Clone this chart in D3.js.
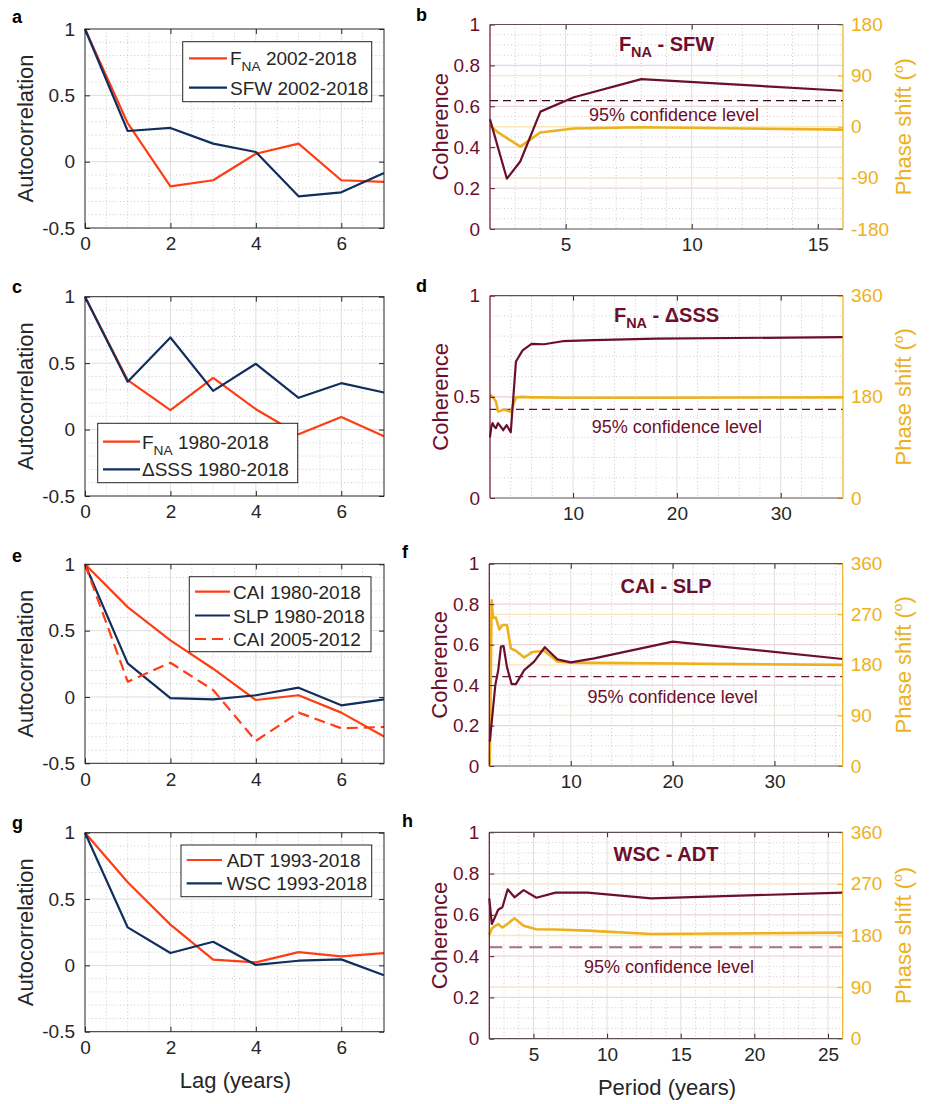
<!DOCTYPE html>
<html>
<head>
<meta charset="utf-8">
<script src="https://cdn.jsdelivr.net/npm/d3@7"></script>
<style>
  body { margin: 0; background: #fff; }
  text { font-family: "Liberation Sans", Arial, Helvetica, sans-serif; }
</style>
</head>
<body>
<svg id="fig" width="952" height="1104"></svg>
<script>
// ---- autocorrelation data (lag in years) ----
const lags = [0, 1, 2, 3, 4, 5, 6, 7];
const fnaA = [1, 0.29, -0.186, -0.14, 0.06, 0.136, -0.14, -0.153];
const sfwA = [1, 0.231, 0.254, 0.136, 0.073, -0.261, -0.231, -0.085];
const fnaC = [1, 0.372, 0.146, 0.389, 0.153, -0.035, 0.095, -0.05];
const dsssC = [1, 0.36, 0.693, 0.291, 0.495, 0.239, 0.349, 0.279];
const caiE = [1, 0.677, 0.426, 0.213, -0.023, 0.013, -0.118, -0.298];
const slpE = [1, 0.253, -0.008, -0.018, 0.013, 0.07, -0.063, -0.018];
const cai0512E = [1, 0.115, 0.258, 0.053, -0.331, -0.118, -0.236, -0.226];
const adtG = [1, 0.626, 0.307, 0.043, 0.023, 0.1, 0.068, 0.093];
const wscG = [1, 0.286, 0.093, 0.178, 0.003, 0.035, 0.045, -0.075];

// ---- coherence / phase data (period in years) ----
const perB = [2, 2.29, 2.67, 3.2, 4, 5.33, 8, 16];
const cohB = [0.537, 0.41, 0.246, 0.33, 0.574, 0.644, 0.733, 0.676];
const phB = [2, -9, -20, -35, -10, -3, -1, -5];
const confB = 0.628;

const perD = [2, 2.12, 2.25, 2.4, 2.57, 2.77, 3, 3.27, 3.6, 4, 4.5, 5.14, 6, 7.2, 9, 12, 18, 36];
const cohD = [0.30, 0.35, 0.37, 0.355, 0.345, 0.37, 0.355, 0.335, 0.36, 0.325, 0.675, 0.73, 0.762, 0.76, 0.775, 0.78, 0.788, 0.795];
const phD = [184, 182, 180, 176, 172, 154, 155, 157, 156, 153, 179, 180, 179, 179, 178.5, 178.5, 178.5, 179];
const confD = 0.438;

const perFc = [2.05, 2.59, 2.88, 3.14, 3.4, 3.73, 4.19, 4.61, 5.43, 6.4, 7.45, 8.69, 10, 12.3, 20, 36.7];
const cohF = [0.12, 0.40, 0.474, 0.59, 0.593, 0.49, 0.405, 0.405, 0.474, 0.516, 0.587, 0.527, 0.512, 0.532, 0.615, 0.529];
const perFp = [2.05, 2.23, 2.36, 2.65, 2.98, 3.3, 3.73, 4.12, 4.61, 5.43, 6.24, 7.38, 8.69, 10, 12.3, 36.7];
const phF = [2, 295, 264, 264, 243, 251, 251, 209, 205, 193, 203, 205, 186, 184, 183.5, 180];
const confF = 0.4415;

const perH = [2, 2.17, 2.36, 2.6, 2.89, 3.25, 3.71, 4.33, 5.2, 6.5, 8.67, 13, 26];
const cohH = [0.68, 0.556, 0.585, 0.625, 0.637, 0.724, 0.685, 0.72, 0.683, 0.708, 0.708, 0.68, 0.708];
const phH = [181, 192, 196, 200, 194, 200.5, 210, 197, 191, 190.5, 188.5, 182.5, 185];
const confH = 0.443;

// ---- colours ----
const red = "#fe3d15", navy = "#112e5c", maroon = "#6c0f2d", gold = "#edb120";
const axisGray = "#262626";

const svg = d3.select("#fig");

// rich text with sub/superscripts
function addRich(textSel, parts, size) {
  let shift = 0;
  parts.forEach(p => {
    let target = 0, fs = size;
    if (p.s === "sub") { target = size * 0.32; fs = size * 0.72; }
    if (p.s === "sup") { target = -size * 0.38; fs = size * 0.62; }
    textSel.append("tspan").text(p.t)
      .attr("dy", target - shift)
      .attr("font-size", fs);
    shift = target;
  });
}

function styleAxis(sel, color, size) {
  sel.select(".domain").remove();
  sel.attr("font-size", size)
    .attr("font-family", '"Liberation Sans", Arial, sans-serif')
    .attr("color", color);
}

function hLines(g, vals, y, x0, x1, color, dash, width) {
  g.selectAll(null).data(vals).enter().append("line")
    .attr("x1", x0).attr("x2", x1)
    .attr("y1", d => y(d)).attr("y2", d => y(d))
    .attr("stroke", color).attr("stroke-width", width || 1)
    .attr("stroke-dasharray", dash);
}
function vLines(g, vals, x, y0, y1, color, dash, width) {
  g.selectAll(null).data(vals).enter().append("line")
    .attr("y1", y0).attr("y2", y1)
    .attr("x1", d => x(d)).attr("x2", d => x(d))
    .attr("stroke", color).attr("stroke-width", width || 1)
    .attr("stroke-dasharray", dash);
}

function panelLetter(txt, px, py) {
  svg.append("text").attr("x", px).attr("y", py)
    .attr("font-size", 18).attr("font-weight", "bold").attr("fill", "#000")
    .text(txt);
}

// ---------- autocorrelation panels ----------
function acfPanel(box, series, legend, xlabel) {
  const [x0, y0, x1, y1] = box;
  const x = d3.scaleLinear().domain([0, 7]).range([x0, x1]);
  const y = d3.scaleLinear().domain([-0.5, 1]).range([y1, y0]);
  const g = svg.append("g");

  // grid
  const xMinor = d3.range(1, 14).map(i => i * 0.5).filter(v => v % 2 !== 0);
  const yMinor = d3.range(-4, 10).filter(i => i % 5 !== 0).map(i => i / 10);
  vLines(g, xMinor, x, y0, y1, "#cacaca", "1,2.5");
  hLines(g, yMinor, y, x0, x1, "#cacaca", "1,2.5");
  vLines(g, [2, 4, 6], x, y0, y1, "#dedede", null);
  hLines(g, [0, 0.5], y, x0, x1, "#dedede", null);

  // series
  const line = d3.line().x((d, i) => x(lags[i])).y(d => y(d));
  series.forEach(s => {
    g.append("path").datum(s.vals)
      .attr("d", line).attr("fill", "none")
      .attr("stroke", s.color).attr("stroke-width", 2.2)
      .attr("stroke-dasharray", s.dash || null)
      .attr("stroke-linejoin", "round");
  });

  // axes
  g.append("g").attr("transform", `translate(0,${y1})`)
    .call(d3.axisBottom(x).tickValues([0, 2, 4, 6]).tickSize(-5).tickPadding(9).tickFormat(d => String(d)))
    .call(a => styleAxis(a, axisGray, 19));
  g.append("g").attr("transform", `translate(0,${y0})`)
    .call(d3.axisTop(x).tickValues([0, 2, 4, 6]).tickSize(-5).tickFormat(""))
    .call(a => styleAxis(a, axisGray, 19));
  g.append("g").attr("transform", `translate(${x0},0)`)
    .call(d3.axisLeft(y).tickValues([-0.5, 0, 0.5, 1]).tickSize(-5).tickPadding(10).tickFormat(d => String(d)))
    .call(a => styleAxis(a, axisGray, 19));
  g.append("g").attr("transform", `translate(${x1},0)`)
    .call(d3.axisRight(y).tickValues([-0.5, 0, 0.5, 1]).tickSize(-5).tickFormat(""))
    .call(a => styleAxis(a, axisGray, 19));
  g.append("rect").attr("x", x0).attr("y", y0)
    .attr("width", x1 - x0).attr("height", y1 - y0)
    .attr("fill", "none").attr("stroke", axisGray).attr("stroke-width", 1);

  // y label
  g.append("text")
    .attr("transform", `translate(33,${(y0 + y1) / 2}) rotate(-90)`)
    .attr("text-anchor", "middle").attr("font-size", 22).attr("fill", axisGray)
    .text("Autocorrelation");

  if (xlabel) {
    g.append("text").attr("x", (x0 + x1) / 2 + 1).attr("y", y1 + 56)
      .attr("text-anchor", "middle").attr("font-size", 22).attr("fill", axisGray)
      .text(xlabel);
  }

  // legend
  const L = legend;
  const lg = g.append("g");
  lg.append("rect").attr("x", L.box[0]).attr("y", L.box[1])
    .attr("width", L.box[2] - L.box[0]).attr("height", L.box[3] - L.box[1])
    .attr("fill", "#fff").attr("stroke", axisGray).attr("stroke-width", 1);
  L.rows.forEach((r, i) => {
    const s = series[i];
    lg.append("line")
      .attr("x1", L.lineX[0]).attr("x2", L.lineX[1])
      .attr("y1", L.rowY[i]).attr("y2", L.rowY[i])
      .attr("stroke", s.color).attr("stroke-width", 2.2)
      .attr("stroke-dasharray", s.dash || null);
    const t = lg.append("text").attr("x", L.textX).attr("y", L.rowY[i] + 7)
      .attr("font-size", 19).attr("fill", axisGray);
    addRich(t, r, 19);
  });
}

// ---------- coherence / phase panels ----------
function cohPanel(o) {
  const [x0, y0, x1, y1] = o.box;
  const x = d3.scaleLinear().domain(o.xDomain).range([x0, x1]);
  const yc = d3.scaleLinear().domain([0, 1]).range([y1, y0]);
  const yp = d3.scaleLinear().domain(o.phDomain).range([y1, y0]);
  const g = svg.append("g");

  // grid
  const xMinor = d3.range(o.xDomain[0], o.xDomain[1], o.xMinor)
    .filter(v => v > o.xDomain[0] && o.xTicks.indexOf(v) < 0);
  const nMinor = Math.round(1 / o.cMinor);
  const yMinor = d3.range(1, nMinor).map(i => i / nMinor)
    .filter(v => o.cTicks.every(t => Math.abs(t - v) > 1e-6));
  vLines(g, xMinor, x, y0, y1, "#cfc6c8", "1,2.5");
  hLines(g, yMinor, yc, x0, x1, "#d9c8cd", "1,2.5");
  vLines(g, o.xTicks, x, y0, y1, "#e2dede", null);
  hLines(g, o.phTicks.slice(1, -1), yp, x0, x1, "#fbe6bd", null, 1.3);
  hLines(g, o.cTicks.slice(1, -1), yc, x0, x1, "#e9d6dc", null, 1.3);

  // confidence level
  g.append("line")
    .attr("x1", x0).attr("x2", x1)
    .attr("y1", yc(o.conf)).attr("y2", yc(o.conf))
    .attr("stroke", o.confColor).attr("stroke-width", o.confWidth)
    .attr("stroke-dasharray", o.confDash);
  g.append("text").attr("x", x(o.confX)).attr("y", yc(o.conf) + o.confDy)
    .attr("text-anchor", "middle").attr("font-size", 18).attr("fill", maroon)
    .text("95% confidence level");

  // lines
  const cohLine = d3.line().x((d, i) => x(o.cohPer[i])).y(d => yc(d));
  const phLine = d3.line().x((d, i) => x(o.phPer[i])).y(d => yp(d));
  g.append("path").datum(o.ph).attr("d", phLine).attr("fill", "none")
    .attr("stroke", gold).attr("stroke-width", 2.6).attr("stroke-linejoin", "round");
  g.append("path").datum(o.coh).attr("d", cohLine).attr("fill", "none")
    .attr("stroke", maroon).attr("stroke-width", 2.2).attr("stroke-linejoin", "round");

  // axes
  g.append("g").attr("transform", `translate(0,${y1})`)
    .call(d3.axisBottom(x).tickValues(o.xTicks).tickSize(-5).tickPadding(9).tickFormat(d => String(d)))
    .call(a => styleAxis(a, axisGray, 19));
  g.append("g").attr("transform", `translate(0,${y0})`)
    .call(d3.axisTop(x).tickValues(o.xTicks).tickSize(-5).tickFormat(""))
    .call(a => styleAxis(a, axisGray, 19));
  g.append("g").attr("transform", `translate(${x0},0)`)
    .call(d3.axisLeft(yc).tickValues(o.cTicks).tickSize(-5).tickPadding(10).tickFormat(d => String(d)))
    .call(a => styleAxis(a, maroon, 19));
  g.append("g").attr("transform", `translate(${x1},0)`)
    .call(d3.axisRight(yp).tickValues(o.phTicks).tickSize(-5).tickPadding(8).tickFormat(d => String(d)))
    .call(a => styleAxis(a, gold, 19));

  // box edges
  g.append("line").attr("x1", x0).attr("x2", x1).attr("y1", y0).attr("y2", y0)
    .attr("stroke", "#5e5050").attr("stroke-width", 1.2);
  g.append("line").attr("x1", x0).attr("x2", x1).attr("y1", y1).attr("y2", y1)
    .attr("stroke", "#5e5050").attr("stroke-width", 1.2);
  g.append("line").attr("x1", x0).attr("x2", x0).attr("y1", y0).attr("y2", y1)
    .attr("stroke", maroon).attr("stroke-width", 1.2);
  g.append("line").attr("x1", x1).attr("x2", x1).attr("y1", y0).attr("y2", y1)
    .attr("stroke", gold).attr("stroke-width", 1.2);

  // axis labels
  g.append("text")
    .attr("transform", `translate(${x0 - 42},${(y0 + y1) / 2}) rotate(-90)`)
    .attr("text-anchor", "middle").attr("font-size", 22).attr("fill", maroon)
    .text("Coherence");
  const pl = g.append("text")
    .attr("transform", `translate(${x1 + 68},${(y0 + y1) / 2}) rotate(-90)`)
    .attr("text-anchor", "middle").attr("font-size", 22).attr("fill", gold);
  addRich(pl, [{ t: "Phase shift (" }, { t: "o", s: "sup" }, { t: ")" }], 22);

  // title
  const tt = g.append("text").attr("x", (x0 + x1) / 2).attr("y", y0 + o.titleDy)
    .attr("text-anchor", "middle").attr("font-size", 20).attr("font-weight", "bold")
    .attr("fill", maroon);
  addRich(tt, o.title, 20);

  if (o.xlabel) {
    g.append("text").attr("x", (x0 + x1) / 2 + 1).attr("y", y1 + 56)
      .attr("text-anchor", "middle").attr("font-size", 22).attr("fill", axisGray)
      .text(o.xlabel);
  }
}

// ---------- left column ----------
acfPanel([85, 29, 384, 228],
  [{ vals: fnaA, color: red }, { vals: sfwA, color: navy }],
  { box: [182.7, 41.7, 371.7, 101.7], rowY: [58.3, 87.7], lineX: [189, 227], textX: 230,
    rows: [[{ t: "F" }, { t: "NA", s: "sub" }, { t: " 2002-2018" }], [{ t: "SFW 2002-2018" }]] });

acfPanel([85, 296.7, 384, 496],
  [{ vals: fnaC, color: red }, { vals: dsssC, color: navy }],
  { box: [97.7, 423.3, 297.7, 482.7], rowY: [441.7, 469.3], lineX: [103, 140], textX: 142,
    rows: [[{ t: "F" }, { t: "NA", s: "sub" }, { t: " 1980-2018" }], [{ t: "\u0394SSS 1980-2018" }]] });

acfPanel([85, 564.3, 384, 763.3],
  [{ vals: caiE, color: red }, { vals: slpE, color: navy }, { vals: cai0512E, color: red, dash: "11,6" }],
  { box: [189.3, 576.7, 371, 651.7], rowY: [591.7, 615.5, 639], lineX: [195, 230], textX: 233,
    rows: [[{ t: "CAI 1980-2018" }], [{ t: "SLP 1980-2018" }], [{ t: "CAI 2005-2012" }]] });

acfPanel([85, 832.7, 384, 1031.7],
  [{ vals: adtG, color: red }, { vals: wscG, color: navy }],
  { box: [181, 845, 371.7, 896.7], rowY: [860, 883.3], lineX: [186.7, 222], textX: 226.7,
    rows: [[{ t: "ADT 1993-2018" }], [{ t: "WSC 1993-2018" }]] },
  "Lag (years)");

// ---------- right column ----------
cohPanel({
  box: [490, 24.5, 843, 229], xDomain: [2, 16], xTicks: [5, 10, 15], xMinor: 1,
  cTicks: [0, 0.2, 0.4, 0.6, 0.8, 1], cMinor: 0.05,
  phDomain: [-180, 180], phTicks: [-180, -90, 0, 90, 180],
  cohPer: perB, coh: cohB, phPer: perB, ph: phB,
  conf: confB, confColor: "#3a0816", confWidth: 1.2, confDash: "8,5", confX: 9.3, confDy: 20,
  title: [{ t: "F" }, { t: "NA", s: "sub" }, { t: " - SFW" }], titleDy: 26
});

cohPanel({
  box: [490, 295.7, 843, 498], xDomain: [2, 36], xTicks: [10, 20, 30], xMinor: 2,
  cTicks: [0, 0.5, 1], cMinor: 0.1,
  phDomain: [0, 360], phTicks: [0, 180, 360],
  cohPer: perD, coh: cohD, phPer: perD, ph: phD,
  conf: confD, confColor: maroon, confWidth: 1.2, confDash: "8,5", confX: 20, confDy: 24,
  title: [{ t: "F" }, { t: "NA", s: "sub" }, { t: " - \u0394SSS" }], titleDy: 26
});

cohPanel({
  box: [489.3, 563.7, 842.7, 766], xDomain: [2, 36.7], xTicks: [10, 20, 30], xMinor: 2,
  cTicks: [0, 0.2, 0.4, 0.6, 0.8, 1], cMinor: 0.05,
  phDomain: [0, 360], phTicks: [0, 90, 180, 270, 360],
  cohPer: perFc, coh: cohF, phPer: perFp, ph: phF,
  conf: confF, confColor: maroon, confWidth: 1.2, confDash: "8,5", confX: 20, confDy: 26,
  title: [{ t: "CAI - SLP" }], titleDy: 29
});

cohPanel({
  box: [489.3, 832.3, 842.7, 1038.7], xDomain: [2, 26], xTicks: [5, 10, 15, 20, 25], xMinor: 1,
  cTicks: [0, 0.2, 0.4, 0.6, 0.8, 1], cMinor: 0.05,
  phDomain: [0, 360], phTicks: [0, 90, 180, 270, 360],
  cohPer: perH, coh: cohH, phPer: perH, ph: phH,
  conf: confH, confColor: "#a86f85", confWidth: 2, confDash: "13,7", confX: 14.2, confDy: 26,
  title: [{ t: "WSC - ADT" }], titleDy: 29,
  xlabel: "Period (years)"
});

// panel letters
panelLetter("a", 12, 23);
panelLetter("b", 416, 21);
panelLetter("c", 12, 293);
panelLetter("d", 416, 292);
panelLetter("e", 12, 562);
panelLetter("f", 402, 558);
panelLetter("g", 12, 829);
panelLetter("h", 402, 827);
</script>
</body>
</html>
